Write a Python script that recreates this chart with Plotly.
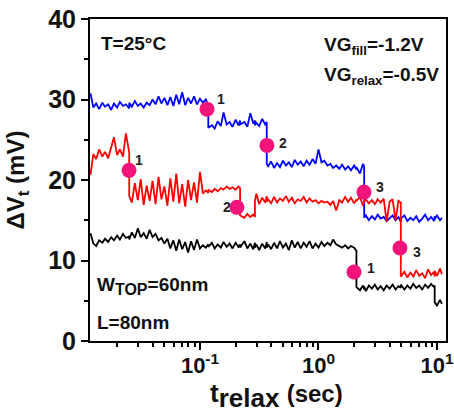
import math
import plotly.graph_objects as go

# shared time grid (s); duplicated entries mark vertical steps
t = [0.0119, 0.0126, 0.0133, 0.0141, 0.0150, 0.0158, 0.0168, 0.0178, 0.0188, 0.0200,
     0.0211, 0.0224, 0.0237, 0.0253, 0.0253, 0.0266, 0.0282, 0.0299, 0.0316, 0.0335,
     0.0355, 0.0376, 0.0398, 0.0422, 0.0447, 0.0473, 0.0501, 0.0531, 0.0562, 0.0596,
     0.0631, 0.0668, 0.0708, 0.0750, 0.0794, 0.0841, 0.0891, 0.0944, 0.100, 0.106,
     0.112, 0.1175, 0.1175, 0.126, 0.133, 0.141, 0.150, 0.158, 0.168, 0.178,
     0.188, 0.200, 0.211, 0.218, 0.218, 0.237, 0.251, 0.266, 0.282, 0.291,
     0.291, 0.299, 0.316, 0.335, 0.355, 0.366, 0.366, 0.376, 0.398, 0.422,
     0.447, 0.473, 0.501, 0.531, 0.562, 0.596, 0.631, 0.668, 0.708, 0.750,
     0.794, 0.841, 0.891, 0.944, 1.00, 1.06, 1.12, 1.19, 1.26, 1.33,
     1.41, 1.50, 1.58, 1.68, 1.78, 1.88, 2.00, 2.09, 2.09, 2.24,
     2.37, 2.43, 2.43, 2.51, 2.66, 2.82, 2.99, 3.16, 3.35, 3.55,
     3.76, 3.98, 4.22, 4.47, 4.73, 4.95, 4.95, 5.31, 5.62, 5.96,
     6.31, 6.68, 7.08, 7.50, 7.94, 8.41, 8.91, 9.44, 9.56, 9.56,
     10.0, 10.6, 11.0]

blue = [30.8, 29.0, 29.5, 28.8, 29.6, 29.1, 29.4, 28.7, 29.5, 29.0,
        29.7, 29.2, 29.4, 28.9, 29.6, 29.1, 29.8, 29.2, 29.5, 29.0,
        29.6, 29.3, 30.0, 29.4, 30.4, 29.5, 30.2, 29.3, 30.3, 29.2,
        30.6, 29.4, 30.9, 29.3, 30.2, 29.5, 30.4, 29.4, 30.1, 29.6,
        30.0, 29.3, 26.5, 26.8, 26.4, 27.3, 26.7, 28.4, 26.9, 27.2,
        26.6, 27.5, 26.8, 27.4, 26.9, 27.2, 26.6, 28.3, 27.0, 27.4,
        26.8, 27.1, 26.7, 27.6, 26.9, 27.2, 22.0, 21.7, 22.3, 21.5,
        22.1, 21.6, 22.4, 21.8, 22.2, 21.6, 22.5, 21.9, 22.3, 21.7,
        22.4, 21.9, 22.6, 22.0, 23.8, 22.2, 22.4, 21.8, 22.0, 21.5,
        21.8, 21.4, 21.9, 21.3, 21.7, 21.2, 21.8, 21.3, 21.6, 20.8,
        22.0, 21.7, 15.3, 15.6, 15.0, 15.5, 15.1, 15.7, 15.2, 15.4,
        14.9, 15.3, 15.6, 15.0, 15.4, 14.8, 15.2, 15.6, 14.9, 15.3,
        15.0, 15.5, 14.8, 15.2, 15.7, 15.0, 15.4, 14.9, 15.5, 15.1,
        15.6, 15.0, 15.3]

red = [20.6, 23.2, 22.6, 23.8, 22.9, 23.5, 22.7, 24.2, 25.3, 23.1,
       23.8, 22.9, 25.8, 23.4, 18.0, 17.2, 19.6, 17.5, 20.1, 16.9,
       19.3, 17.4, 19.9, 17.0, 20.4, 17.6, 19.2, 16.8, 20.2, 17.3,
       20.8, 17.1, 19.5, 16.7, 20.0, 17.5, 19.7, 17.2, 21.0, 18.3,
       18.7, 18.4, 18.8, 18.5, 18.9, 18.6, 19.0, 18.8, 19.2, 18.9,
       19.1, 18.8, 19.2, 19.0, 15.6, 15.3, 15.8, 15.4, 15.7, 15.4,
       17.4, 18.3, 17.0, 17.8, 17.2, 18.0, 17.3, 17.6, 17.1, 17.9,
       17.2, 17.7, 17.4, 18.0, 17.3, 17.8, 17.1, 17.6, 17.4, 17.9,
       17.2, 17.7, 17.3, 17.5, 17.1, 17.4, 17.2, 17.3, 16.9, 17.4,
       16.2, 17.5, 17.2, 17.9, 17.3, 17.8, 17.1, 17.6, 17.4, 17.9,
       16.8, 17.3, 17.3, 17.6, 17.1, 17.5, 17.0, 17.6, 17.2, 17.7,
       14.8, 17.3, 17.6, 15.0, 17.4, 17.2, 8.0, 8.6, 7.9, 8.5,
       8.0, 8.8, 8.1, 8.4, 7.8, 8.9, 8.2, 8.6, 8.0, 8.7,
       8.1, 9.0, 8.3]

black = [13.4, 12.1, 11.8, 12.5, 12.2, 12.7, 12.3, 12.9, 12.5, 13.1,
         12.6, 13.3, 12.8, 13.0, 12.6, 13.5, 12.8, 14.0, 12.9, 13.4,
         12.7, 13.8, 12.9, 13.3, 12.5, 12.8, 12.1, 12.7, 11.5, 12.5,
         11.2, 12.6, 11.4, 12.3, 11.0, 12.4, 11.3, 12.6, 11.5, 11.9,
         11.6, 12.0, 11.7, 12.2, 11.5, 12.0, 11.6, 12.3, 11.7, 12.1,
         11.5, 12.2, 11.7, 12.0, 11.6, 12.4, 11.5, 12.1, 11.4, 12.2,
         11.6, 12.0, 11.3, 12.1, 11.5, 12.3, 11.6, 12.0, 11.4, 12.2,
         11.5, 12.4, 11.6, 12.1, 11.3, 12.5, 11.6, 12.3, 11.5, 12.2,
         11.7, 12.4, 11.5, 12.1, 11.6, 12.3, 11.8, 12.2, 11.9, 12.6,
         12.0, 11.8, 11.6, 11.9, 11.5, 11.8, 11.6, 11.2, 6.7, 6.3,
         6.9, 6.4, 6.8, 6.2, 6.9, 6.5, 7.0, 6.4, 6.8, 6.3,
         6.9, 6.5, 7.0, 6.4, 6.8, 6.6, 7.0, 6.4, 6.9, 6.5,
         7.1, 6.6, 6.9, 6.4, 7.0, 6.6, 7.1, 6.7, 6.9, 4.8,
         4.4, 5.1, 4.6]

# trap emission events (markers) and their labels
mk_t = [0.1146, 0.367, 2.42, 0.0252, 0.205, 4.87, 1.995]
mk_v = [28.8, 24.3, 18.5, 21.2, 16.6, 11.55, 8.57]
lbl_t = [0.150, 0.501, 3.30, 0.0306, 0.169, 6.78, 2.77]
lbl_v = [30.1, 24.6, 19.1, 22.5, 16.6, 11.1, 9.1]
lbl_txt = ["1", "2", "3", "1", "2", "3", "1"]

x_ticks = [0.1, 1, 10]
x_ticktext = ["10<sup>-1</sup>", "10<sup>0</sup>", "10<sup>1</sup>"]
y_ticks = [0, 10, 20, 30, 40]

FONT = "Liberation Sans, Arial, sans-serif"

fig = go.Figure()
fig.add_trace(go.Scatter(x=t, y=blue, mode="lines", line=dict(color="#0000ff", width=1.8), showlegend=False))
fig.add_trace(go.Scatter(x=t, y=red, mode="lines", line=dict(color="#ff0000", width=1.8), showlegend=False))
fig.add_trace(go.Scatter(x=t, y=black, mode="lines", line=dict(color="#000000", width=1.8), showlegend=False))
fig.add_trace(go.Scatter(x=mk_t, y=mk_v, mode="markers",
                         marker=dict(color="#f2137b", size=15, line=dict(width=0)), showlegend=False))

annotations = []
for xt, yv, tx in zip(lbl_t, lbl_v, lbl_txt):
    annotations.append(dict(x=math.log10(xt), y=yv, xref="x", yref="y", text=tx, showarrow=False,
                            font=dict(family=FONT, size=14, color="#222222", weight="bold")))

def ptext(x, y, text, size=19, anchor="left"):
    return dict(x=x, y=y, xref="paper", yref="paper", text=text, showarrow=False,
                xanchor=anchor, yanchor="middle",
                font=dict(family=FONT, size=size, color="#111111", weight="bold"))

annotations += [
    ptext(0.025, 0.925, "T=25°C", 19),
    ptext(0.652, 0.915, "VG<sub>fill</sub>=-1.2V", 19),
    ptext(0.652, 0.822, "VG<sub>relax</sub>=-0.5V", 19),
    ptext(0.015, 0.17, "W<sub><span style='font-size:16px'>TOP</span></sub>=60nm", 19),
    ptext(0.015, 0.056, "L=80nm", 19),
    # x axis title
    ptext(0.525, -0.17, "t<sub><span style='font-size:26px'>relax</span></sub> "
                        "<span style='font-size:24px'>(sec)</span>", 26, "center"),
]

fig.update_layout(
    width=454, height=419,
    margin=dict(l=90, r=8, t=19, b=78, autoexpand=False),
    paper_bgcolor="white", plot_bgcolor="white",
    font=dict(family=FONT, color="#111111"),
    annotations=annotations,
    xaxis=dict(type="log", range=[-1.928, 1.076], automargin=False,
               tickvals=x_ticks, ticktext=x_ticktext,
               ticks="outside", ticklen=7, tickwidth=2, tickcolor="black",
               ticklabelstandoff=-3,
               minor=dict(ticks="outside", ticklen=4, tickwidth=1.5, tickcolor="black", dtick="D1"),
               showline=True, linecolor="black", linewidth=2, mirror=True,
               showgrid=False, zeroline=False,
               tickfont=dict(family=FONT, size=22, color="#111111", weight="bold")),
    yaxis=dict(range=[0, 40], tickvals=y_ticks, automargin=False,
               ticks="outside", ticklen=7, tickwidth=2, tickcolor="black",
               minor=dict(ticks="outside", ticklen=4, tickwidth=1.5, tickcolor="black", dtick=5),
               showline=True, linecolor="black", linewidth=2, mirror=True,
               showgrid=False, zeroline=False,
               tickfont=dict(family=FONT, size=25, color="#111111", weight="bold"),
               title=dict(text="ΔV<sub>t</sub> (mV)", standoff=17,
                          font=dict(family=FONT, size=24, color="#111111", weight="bold"))),
)

fig.write_html("out.html")
